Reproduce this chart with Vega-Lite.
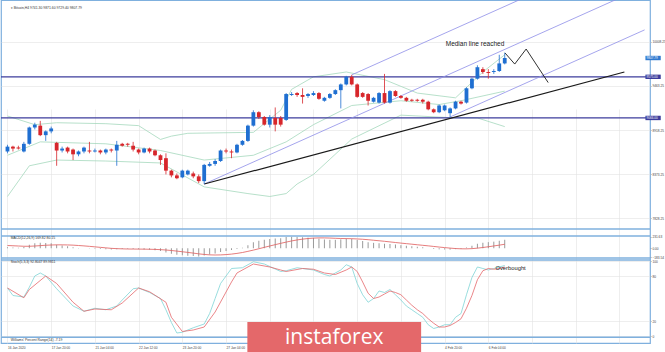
{
  "$schema": "https://vega.github.io/schema/vega-lite/v6.json",
  "padding": 0,
  "background": "#ffffff",
  "width": 649,
  "height": 343,
  "config": {
    "view": {"stroke": "#7fb0de", "strokeWidth": 1.2},
    "font": "Liberation Sans",
    "axis": {"labelFont": "Liberation Sans", "labelFontSize": 3.2, "labelColor": "#444444", "gridColor": "#e2e2e2", "gridWidth": 0.6, "domain": false, "tickColor": "#888888", "tickWidth": 0.5, "tickSize": 1.3, "labelPadding": 0.6, "labelOverlap": false, "labelFlush": false}
  },
  "datasets": {
    "candles": [
      {"i":0,"o":8651,"h":8734,"l":8628,"c":8711,"m":20,"s":55},
      {"i":1,"o":8711,"h":8722,"l":8651,"c":8687,"m":15,"s":50},
      {"i":2,"o":8699,"h":8722,"l":8675,"c":8687,"m":10,"s":45},
      {"i":3,"o":8651,"h":8770,"l":8639,"c":8746,"m":25,"s":40},
      {"i":4,"o":8746,"h":8959,"l":8734,"c":8948,"m":70,"s":40},
      {"i":5,"o":8948,"h":9007,"l":8924,"c":8983,"m":100,"s":45},
      {"i":6,"o":8971,"h":9030,"l":8841,"c":8853,"m":110,"s":52},
      {"i":7,"o":8853,"h":8912,"l":8782,"c":8900,"m":105,"s":60},
      {"i":8,"o":8900,"h":8959,"l":8876,"c":8936,"m":100,"s":65},
      {"i":9,"o":8758,"h":8770,"l":8474,"c":8663,"m":70,"s":68},
      {"i":10,"o":8663,"h":8711,"l":8639,"c":8687,"m":55,"s":68},
      {"i":11,"o":8699,"h":8711,"l":8628,"c":8651,"m":40,"s":66},
      {"i":12,"o":8675,"h":8687,"l":8545,"c":8616,"m":20,"s":62},
      {"i":13,"o":8616,"h":8663,"l":8592,"c":8651,"m":5,"s":55},
      {"i":14,"o":8651,"h":8711,"l":8628,"c":8699,"m":0,"s":47},
      {"i":15,"o":8663,"h":8770,"l":8628,"c":8651,"m":-5,"s":38},
      {"i":16,"o":8651,"h":8687,"l":8639,"c":8663,"m":-10,"s":28},
      {"i":17,"o":8663,"h":8675,"l":8616,"c":8639,"m":-15,"s":18},
      {"i":18,"o":8639,"h":8687,"l":8616,"c":8675,"m":-20,"s":8},
      {"i":19,"o":8675,"h":8687,"l":8639,"c":8663,"m":-25,"s":-2},
      {"i":20,"o":8663,"h":8782,"l":8474,"c":8734,"m":-20,"s":-8},
      {"i":21,"o":8746,"h":8758,"l":8711,"c":8722,"m":-15,"s":-12},
      {"i":22,"o":8746,"h":8758,"l":8711,"c":8734,"m":-12,"s":-15},
      {"i":23,"o":8722,"h":8770,"l":8651,"c":8675,"m":-15,"s":-16},
      {"i":24,"o":8675,"h":8687,"l":8616,"c":8639,"m":-20,"s":-17},
      {"i":25,"o":8639,"h":8699,"l":8628,"c":8687,"m":-25,"s":-18},
      {"i":26,"o":8687,"h":8699,"l":8628,"c":8651,"m":-30,"s":-20},
      {"i":27,"o":8663,"h":8675,"l":8592,"c":8604,"m":-40,"s":-23},
      {"i":28,"o":8604,"h":8616,"l":8485,"c":8545,"m":-55,"s":-28},
      {"i":29,"o":8568,"h":8628,"l":8367,"c":8414,"m":-85,"s":-35},
      {"i":30,"o":8414,"h":8426,"l":8331,"c":8355,"m":-110,"s":-45},
      {"i":31,"o":8355,"h":8379,"l":8308,"c":8320,"m":-130,"s":-57},
      {"i":32,"o":8331,"h":8426,"l":8320,"c":8414,"m":-140,"s":-70},
      {"i":33,"o":8367,"h":8426,"l":8355,"c":8414,"m":-150,"s":-83},
      {"i":34,"o":8379,"h":8402,"l":8320,"c":8343,"m":-155,"s":-97},
      {"i":35,"o":8343,"h":8367,"l":8260,"c":8284,"m":-165,"s":-112},
      {"i":36,"o":8284,"h":8497,"l":8248,"c":8485,"m":-145,"s":-124},
      {"i":37,"o":8474,"h":8521,"l":8462,"c":8497,"m":-125,"s":-132},
      {"i":38,"o":8497,"h":8557,"l":8474,"c":8533,"m":-105,"s":-135},
      {"i":39,"o":8533,"h":8675,"l":8521,"c":8663,"m":-75,"s":-133},
      {"i":40,"o":8663,"h":8687,"l":8628,"c":8651,"m":-55,"s":-127},
      {"i":41,"o":8651,"h":8675,"l":8568,"c":8639,"m":-35,"s":-117},
      {"i":42,"o":8639,"h":8746,"l":8628,"c":8734,"m":-15,"s":-103},
      {"i":43,"o":8734,"h":8793,"l":8722,"c":8782,"m":10,"s":-85},
      {"i":44,"o":8782,"h":8983,"l":8770,"c":8971,"m":60,"s":-62},
      {"i":45,"o":8971,"h":9161,"l":8959,"c":9137,"m":120,"s":-37},
      {"i":46,"o":9137,"h":9149,"l":9054,"c":9078,"m":150,"s":-10},
      {"i":47,"o":9078,"h":9090,"l":8971,"c":8983,"m":170,"s":18},
      {"i":48,"o":8983,"h":9101,"l":8948,"c":9078,"m":185,"s":45},
      {"i":49,"o":9066,"h":9196,"l":8900,"c":8983,"m":195,"s":72},
      {"i":50,"o":9066,"h":9090,"l":8959,"c":8983,"m":200,"s":98},
      {"i":51,"o":9042,"h":9374,"l":9030,"c":9362,"m":225,"s":123},
      {"i":52,"o":9350,"h":9386,"l":9338,"c":9362,"m":230,"s":146},
      {"i":53,"o":9374,"h":9386,"l":9327,"c":9350,"m":228,"s":166},
      {"i":54,"o":9350,"h":9433,"l":9244,"c":9327,"m":220,"s":182},
      {"i":55,"o":9338,"h":9374,"l":9315,"c":9362,"m":212,"s":195},
      {"i":56,"o":9350,"h":9398,"l":9338,"c":9374,"m":205,"s":203},
      {"i":57,"o":9374,"h":9386,"l":9291,"c":9303,"m":190,"s":207},
      {"i":58,"o":9279,"h":9327,"l":9267,"c":9315,"m":175,"s":207},
      {"i":59,"o":9315,"h":9374,"l":9303,"c":9362,"m":168,"s":204},
      {"i":60,"o":9362,"h":9421,"l":9350,"c":9410,"m":168,"s":199},
      {"i":61,"o":9410,"h":9493,"l":9184,"c":9481,"m":178,"s":195},
      {"i":62,"o":9481,"h":9587,"l":9469,"c":9575,"m":195,"s":193},
      {"i":63,"o":9575,"h":9599,"l":9469,"c":9481,"m":190,"s":191},
      {"i":64,"o":9481,"h":9493,"l":9315,"c":9327,"m":165,"s":186},
      {"i":65,"o":9374,"h":9386,"l":9315,"c":9327,"m":145,"s":180},
      {"i":66,"o":9362,"h":9374,"l":9220,"c":9279,"m":120,"s":171},
      {"i":67,"o":9267,"h":9327,"l":9256,"c":9315,"m":108,"s":160},
      {"i":68,"o":9256,"h":9386,"l":9244,"c":9374,"m":100,"s":150},
      {"i":69,"o":9374,"h":9611,"l":9244,"c":9256,"m":90,"s":139},
      {"i":70,"o":9256,"h":9410,"l":9244,"c":9398,"m":85,"s":127},
      {"i":71,"o":9398,"h":9410,"l":9327,"c":9338,"m":75,"s":115},
      {"i":72,"o":9338,"h":9350,"l":9303,"c":9315,"m":62,"s":103},
      {"i":73,"o":9315,"h":9327,"l":9267,"c":9279,"m":50,"s":92},
      {"i":74,"o":9291,"h":9303,"l":9267,"c":9279,"m":40,"s":81},
      {"i":75,"o":9291,"h":9303,"l":9267,"c":9279,"m":30,"s":70},
      {"i":76,"o":9291,"h":9303,"l":9244,"c":9267,"m":20,"s":59},
      {"i":77,"o":9267,"h":9279,"l":9161,"c":9173,"m":0,"s":48},
      {"i":78,"o":9173,"h":9184,"l":9125,"c":9137,"m":-15,"s":36},
      {"i":79,"o":9137,"h":9232,"l":9125,"c":9220,"m":-22,"s":24},
      {"i":80,"o":9161,"h":9232,"l":9149,"c":9220,"m":-25,"s":13},
      {"i":81,"o":9125,"h":9196,"l":9078,"c":9184,"m":-28,"s":3},
      {"i":82,"o":9184,"h":9279,"l":9173,"c":9267,"m":-18,"s":-6},
      {"i":83,"o":9267,"h":9279,"l":9232,"c":9244,"m":-12,"s":-11},
      {"i":84,"o":9256,"h":9445,"l":9244,"c":9433,"m":15,"s":-12},
      {"i":85,"o":9433,"h":9564,"l":9421,"c":9552,"m":50,"s":-8},
      {"i":86,"o":9552,"h":9718,"l":9540,"c":9694,"m":90,"s":2},
      {"i":87,"o":9670,"h":9694,"l":9611,"c":9635,"m":110,"s":15},
      {"i":88,"o":9635,"h":9670,"l":9552,"c":9623,"m":122,"s":30},
      {"i":89,"o":9635,"h":9670,"l":9611,"c":9647,"m":132,"s":46},
      {"i":90,"o":9647,"h":9848,"l":9635,"c":9741,"m":150,"s":62},
      {"i":91,"o":9741,"h":9872,"l":9729,"c":9808,"m":170,"s":80}
    ],
    "bb": [
      {"b":"up","i":0,"v":9090},{"b":"up","i":5,"v":8983},{"b":"up","i":9,"v":9007},{"b":"up","i":18,"v":8995},{"b":"up","i":24,"v":8971},{"b":"up","i":28,"v":8800},{"b":"up","i":30,"v":8841},{"b":"up","i":33,"v":8876},{"b":"up","i":45,"v":8888},{"b":"up","i":50,"v":9161},{"b":"up","i":52,"v":9420},{"b":"up","i":56,"v":9575},{"b":"up","i":62,"v":9635},{"b":"up","i":69,"v":9540},{"b":"up","i":75,"v":9374},{"b":"up","i":82,"v":9315},{"b":"up","i":87,"v":9635},{"b":"up","i":91,"v":9848},
      {"b":"mid","i":0,"v":8604},{"b":"mid","i":6,"v":8770},{"b":"mid","i":18,"v":8746},{"b":"mid","i":28,"v":8663},{"b":"mid","i":36,"v":8545},{"b":"mid","i":45,"v":8604},{"b":"mid","i":51,"v":8770},{"b":"mid","i":56,"v":8983},{"b":"mid","i":63,"v":9220},{"b":"mid","i":72,"v":9279},{"b":"mid","i":79,"v":9232},{"b":"mid","i":83,"v":9279},{"b":"mid","i":91,"v":9398},
      {"b":"low","i":0,"v":8094},{"b":"low","i":4,"v":8474},{"b":"low","i":9,"v":8545},{"b":"low","i":18,"v":8533},{"b":"low","i":28,"v":8509},{"b":"low","i":36,"v":8213},{"b":"low","i":44,"v":8130},{"b":"low","i":48,"v":8094},{"b":"low","i":51,"v":8130},{"b":"low","i":53,"v":8248},{"b":"low","i":56,"v":8367},{"b":"low","i":63,"v":8805},{"b":"low","i":72,"v":9101},{"b":"low","i":81,"v":9070},{"b":"low","i":86,"v":9066},{"b":"low","i":91,"v":8959}
    ],
    "fork": [
      {"name":"median","i":36,"p":8248},{"name":"median","i":116.6,"p":10690},
      {"name":"upper","i":63,"p":9599},{"name":"upper","i":116.6,"p":11222},
      {"name":"lower","i":81,"p":9078},{"name":"lower","i":116.6,"p":10156}
    ],
    "trend": [{"i":36,"p":8248},{"i":112.9,"p":9635}],
    "zig": [{"i":91.03,"p":9872},{"i":92.83,"p":9733},{"i":94.92,"p":9919},{"i":98.95,"p":9504}],
    "levels": [{"p":9575},{"p":9066}],
    "tags": [{"p":9807.79,"k":"price"},{"p":9575,"k":"level"},{"p":9066,"k":"level"}],
    "stoch": [
      {"s":"K","i":0,"v":64},{"s":"K","i":1,"v":54},{"s":"K","i":3,"v":52},{"s":"K","i":4,"v":65},{"s":"K","i":5,"v":80},{"s":"K","i":6,"v":84},{"s":"K","i":7,"v":80},{"s":"K","i":9,"v":63},{"s":"K","i":12,"v":40},{"s":"K","i":14,"v":33},{"s":"K","i":16,"v":37},{"s":"K","i":18,"v":35},{"s":"K","i":20,"v":40},{"s":"K","i":21,"v":48},{"s":"K","i":23,"v":63},{"s":"K","i":24,"v":64},{"s":"K","i":26,"v":58},{"s":"K","i":28,"v":50},{"s":"K","i":29,"v":35},{"s":"K","i":30,"v":18},{"s":"K","i":31,"v":4},{"s":"K","i":32,"v":5},{"s":"K","i":34,"v":11},{"s":"K","i":36,"v":16},{"s":"K","i":37,"v":30},{"s":"K","i":38,"v":50},{"s":"K","i":39,"v":70},{"s":"K","i":41,"v":90},{"s":"K","i":43,"v":91},{"s":"K","i":45,"v":99},{"s":"K","i":47,"v":96},{"s":"K","i":50,"v":86},{"s":"K","i":51,"v":87},{"s":"K","i":53,"v":91},{"s":"K","i":54,"v":90},{"s":"K","i":56,"v":88},{"s":"K","i":58,"v":82},{"s":"K","i":59,"v":80},{"s":"K","i":61,"v":88},{"s":"K","i":62,"v":95},{"s":"K","i":63,"v":92},{"s":"K","i":64,"v":70},{"s":"K","i":65,"v":55},{"s":"K","i":66,"v":45},{"s":"K","i":67,"v":50},{"s":"K","i":68,"v":60},{"s":"K","i":69,"v":58},{"s":"K","i":70,"v":62},{"s":"K","i":71,"v":55},{"s":"K","i":72,"v":48},{"s":"K","i":73,"v":40},{"s":"K","i":74,"v":35},{"s":"K","i":75,"v":30},{"s":"K","i":76,"v":25},{"s":"K","i":77,"v":15},{"s":"K","i":78,"v":10},{"s":"K","i":79,"v":12},{"s":"K","i":80,"v":15},{"s":"K","i":81,"v":15},{"s":"K","i":82,"v":25},{"s":"K","i":83,"v":30},{"s":"K","i":84,"v":55},{"s":"K","i":85,"v":78},{"s":"K","i":86,"v":92},{"s":"K","i":87,"v":90},{"s":"K","i":88,"v":88},{"s":"K","i":89,"v":90},{"s":"K","i":90,"v":92},{"s":"K","i":91,"v":94},
      {"s":"D","i":0,"v":64},{"s":"D","i":3,"v":51},{"s":"D","i":4,"v":62},{"s":"D","i":7,"v":80},{"s":"D","i":9,"v":70},{"s":"D","i":12,"v":45},{"s":"D","i":14,"v":33},{"s":"D","i":16,"v":36},{"s":"D","i":19,"v":35},{"s":"D","i":21,"v":44},{"s":"D","i":24,"v":64},{"s":"D","i":26,"v":59},{"s":"D","i":29,"v":45},{"s":"D","i":30,"v":25},{"s":"D","i":32,"v":6},{"s":"D","i":34,"v":8},{"s":"D","i":36,"v":12},{"s":"D","i":38,"v":32},{"s":"D","i":41,"v":72},{"s":"D","i":42,"v":84},{"s":"D","i":45,"v":96},{"s":"D","i":48,"v":92},{"s":"D","i":50,"v":88},{"s":"D","i":51,"v":86},{"s":"D","i":54,"v":90},{"s":"D","i":56,"v":89},{"s":"D","i":58,"v":84},{"s":"D","i":60,"v":82},{"s":"D","i":62,"v":88},{"s":"D","i":63,"v":92},{"s":"D","i":64,"v":86},{"s":"D","i":65,"v":72},{"s":"D","i":66,"v":57},{"s":"D","i":67,"v":50},{"s":"D","i":68,"v":52},{"s":"D","i":69,"v":56},{"s":"D","i":70,"v":60},{"s":"D","i":71,"v":58},{"s":"D","i":72,"v":55},{"s":"D","i":73,"v":48},{"s":"D","i":74,"v":41},{"s":"D","i":75,"v":35},{"s":"D","i":76,"v":30},{"s":"D","i":77,"v":23},{"s":"D","i":78,"v":17},{"s":"D","i":79,"v":12},{"s":"D","i":80,"v":12},{"s":"D","i":81,"v":14},{"s":"D","i":82,"v":18},{"s":"D","i":83,"v":23},{"s":"D","i":84,"v":37},{"s":"D","i":85,"v":54},{"s":"D","i":86,"v":75},{"s":"D","i":87,"v":87},{"s":"D","i":88,"v":90},{"s":"D","i":89,"v":89},{"s":"D","i":90,"v":90},{"s":"D","i":91,"v":92}
    ]
  },
  "resolve": {"scale": {"y": "independent"}, "axis": {"y": "independent"}},
  "layer": [
    {
      "layer": [
        {
          "data": {"name": "bb"},
          "mark": {"type": "line", "strokeWidth": 0.8, "color": "#a5d8bd"},
          "encoding": {
            "x": {"field": "i", "type": "quantitative", "scale": {"domain": [-0.27, 116.67], "nice": false, "zero": false},
                  "axis": {"orient": "bottom", "values": [0,2,4,6,8,10,12,14,16,18,20,22,24,26,28,30,32,34,36,38,40,42,44,46,48,50,52,54,56,58,60,62,64,66,68,70,72,74,76,78,80,82,84,86,88,90,92,94,96,98,100,102,104,106,108,110,112,114,116], "ticks": false, "grid": true, "title": null, "labelAlign": "left", "labelPadding": 2, "labelFontSize": 3.2,
                           "labelExpr": "(datum.value % 4 == 0 && datum.value <= 88) ? ['16 Jan 2020','17 Jan 04:00','17 Jan 20:00','20 Jan 12:00','21 Jan 04:00','21 Jan 20:00','22 Jan 12:00','23 Jan 04:00','23 Jan 20:00','24 Jan 12:00','27 Jan 04:00','27 Jan 20:00','28 Jan 12:00','29 Jan 04:00','29 Jan 20:00','30 Jan 12:00','31 Jan 04:00','31 Jan 20:00','3 Feb 12:00','4 Feb 04:00','4 Feb 20:00','5 Feb 12:00','6 Feb 04:00'][datum.value / 4] : ''"}},
            "y": {"field": "v", "type": "quantitative", "scale": {"domain": [7691.6, 10464], "range": [234, 0], "nice": false, "zero": false},
                  "axis": {"orient": "right", "offset": 0, "values": [10417, 10280.75, 10144.5, 10008.25, 9872, 9735.75, 9599.5, 9463.25, 9327, 9190.75, 9054.5, 8918.25, 8782, 8645.75, 8509.5, 8373.25, 8237, 8100.75, 7964.5, 7828.25], "format": ".2f", "grid": true, "title": null}},
            "detail": {"field": "b", "type": "nominal"}
          }
        },
        {
          "data": {"values": [{"v": 7691.6}]},
          "mark": {"type": "rule", "color": "#7fb0de", "strokeWidth": 1.3},
          "encoding": {"y": {"field": "v", "type": "quantitative"}}
        },
        {
          "data": {"name": "levels"},
          "mark": {"type": "rule", "color": "#3c3c9c", "strokeWidth": 1.3},
          "encoding": {"y": {"field": "p", "type": "quantitative"}}
        },
        {
          "data": {"name": "fork"},
          "mark": {"type": "line", "clip": true, "color": "#8e8ee8", "strokeWidth": 0.8},
          "encoding": {
            "x": {"field": "i", "type": "quantitative"},
            "y": {"field": "p", "type": "quantitative"},
            "detail": {"field": "name", "type": "nominal"}
          }
        },
        {
          "data": {"name": "trend"},
          "mark": {"type": "line", "color": "#1a1a1a", "strokeWidth": 1.2},
          "encoding": {"x": {"field": "i", "type": "quantitative"}, "y": {"field": "p", "type": "quantitative"}}
        },
        {
          "data": {"name": "zig"},
          "mark": {"type": "line", "color": "#1a1a1a", "strokeWidth": 0.9},
          "encoding": {"x": {"field": "i", "type": "quantitative"}, "y": {"field": "p", "type": "quantitative"}}
        },
        {
          "data": {"name": "candles"},
          "mark": {"type": "rule", "strokeWidth": 0.8},
          "encoding": {
            "x": {"field": "i", "type": "quantitative"},
            "y": {"field": "l", "type": "quantitative"},
            "y2": {"field": "h"},
            "color": {"condition": {"test": "datum.c >= datum.o", "value": "#1f6fd1"}, "value": "#d7262b"}
          }
        },
        {
          "data": {"name": "candles"},
          "mark": {"type": "bar", "size": 3.8},
          "encoding": {
            "x": {"field": "i", "type": "quantitative"},
            "y": {"field": "o", "type": "quantitative"},
            "y2": {"field": "c"},
            "color": {"condition": {"test": "datum.c >= datum.o", "value": "#1f6fd1"}, "value": "#d7262b"}
          }
        },
        {
          "data": {"values": [{"i": 80.2, "p": 9978, "t": "Median line reached"}]},
          "mark": {"type": "text", "align": "left", "baseline": "middle", "fontSize": 6.5, "color": "#1a1a1a", "font": "Liberation Sans"},
          "encoding": {"x": {"field": "i", "type": "quantitative"}, "y": {"field": "p", "type": "quantitative"}, "text": {"field": "t"}}
        },
        {
          "data": {"values": [{"i": 0.6, "p": 10428, "t": "\u25be Bitcoin,H4  9741.30 9871.60 9729.40 9807.79"}]},
          "mark": {"type": "text", "align": "left", "baseline": "middle", "fontSize": 3.4, "color": "#333333"},
          "encoding": {"x": {"field": "i", "type": "quantitative"}, "y": {"field": "p", "type": "quantitative"}, "text": {"field": "t"}}
        },
        {
          "data": {"name": "tags"},
          "mark": {"type": "bar", "size": 4.4},
          "encoding": {
            "x": {"datum": 116.75},
            "x2": {"datum": 119.55},
            "y": {"field": "p", "type": "quantitative"},
            "color": {"condition": {"test": "datum.k == 'price'", "value": "#2f78cf"}, "value": "#3c3c9c"}
          }
        },
        {
          "data": {"name": "tags"},
          "mark": {"type": "text", "align": "left", "baseline": "middle", "fontSize": 3.1, "color": "#ffffff"},
          "encoding": {
            "x": {"datum": 116.95},
            "y": {"field": "p", "type": "quantitative"},
            "text": {"field": "p", "type": "quantitative", "format": ".2f"}
          }
        }
      ]
    },
    {
      "layer": [
        {
          "data": {"name": "candles"},
          "mark": {"type": "rule", "color": "#9a9a9a", "strokeWidth": 1},
          "encoding": {
            "x": {"field": "i", "type": "quantitative"},
            "y": {"field": "m", "type": "quantitative", "scale": {"domain": [-195, 245], "range": [258, 236], "nice": false, "zero": false},
                  "axis": {"orient": "right", "offset": 0, "values": [231.63, 0, -183.54], "format": ".2f", "grid": false, "title": null}},
            "y2": {"datum": 0}
          }
        },
        {
          "data": {"name": "candles"},
          "mark": {"type": "line", "color": "#e05a5a", "strokeWidth": 0.8},
          "encoding": {"x": {"field": "i", "type": "quantitative"}, "y": {"field": "s", "type": "quantitative"}}
        },
        {
          "data": {"values": [{"v": 245}, {"v": -195}]},
          "mark": {"type": "rule", "color": "#7fb0de", "strokeWidth": 1.3},
          "encoding": {"y": {"field": "v", "type": "quantitative"}}
        },
        {
          "data": {"values": [{"i": 0.6, "v": 205, "t": "MACD(12,26,9) 169.82 80.15"}]},
          "mark": {"type": "text", "align": "left", "baseline": "middle", "fontSize": 3.4, "color": "#333333"},
          "encoding": {"x": {"field": "i", "type": "quantitative"}, "y": {"field": "v", "type": "quantitative"}, "text": {"field": "t"}}
        }
      ]
    },
    {
      "layer": [
        {
          "data": {"name": "stoch"},
          "mark": {"type": "line", "strokeWidth": 0.8},
          "encoding": {
            "x": {"field": "i", "type": "quantitative"},
            "y": {"field": "v", "type": "quantitative", "scale": {"domain": [-9.33, 101.33], "range": [343, 260], "nice": false, "zero": false},
                  "axis": {"orient": "right", "offset": 0, "values": [0, 20, 80, 100], "grid": true, "title": null}},
            "color": {"field": "s", "type": "nominal", "scale": {"domain": ["K", "D"], "range": ["#7fd4d6", "#e5676b"]}, "legend": null}
          }
        },
        {
          "data": {"values": [{"v": 101.33}, {"v": -1.6}]},
          "mark": {"type": "rule", "color": "#7fb0de", "strokeWidth": 1.4},
          "encoding": {"y": {"field": "v", "type": "quantitative"}}
        },
        {
          "data": {"values": [
            {"i": 0.6, "v": 99.2, "t": "Stoch(5,3,3) 92.8047 89.9811"},
            {"i": 0.6, "v": -5.3, "t": "Williams' Percent Range(14) -7.19"}
          ]},
          "mark": {"type": "text", "align": "left", "baseline": "middle", "fontSize": 3.4, "color": "#333333"},
          "encoding": {"x": {"field": "i", "type": "quantitative"}, "y": {"field": "v", "type": "quantitative"}, "text": {"field": "t"}}
        },
        {
          "data": {"values": [{"i": 89.3, "v": 90.7, "t": "Overbought"}]},
          "mark": {"type": "text", "align": "left", "baseline": "middle", "fontSize": 5.8, "color": "#1a1a1a"},
          "encoding": {"x": {"field": "i", "type": "quantitative"}, "y": {"field": "v", "type": "quantitative"}, "text": {"field": "t"}}
        },
        {
          "data": {"values": [{"a": 1}]},
          "mark": {"type": "rect", "color": "#e4686a"},
          "encoding": {"x": {"datum": 43.9}, "x2": {"datum": 75.7}, "y": {"datum": 18.7}, "y2": {"datum": -21.3}}
        },
        {
          "data": {"values": [{"i": 59.8, "v": -3.2, "t": "instaforex"}]},
          "mark": {"type": "text", "align": "center", "baseline": "middle", "fontSize": 21, "color": "#ffffff", "font": "Open Sans"},
          "encoding": {"x": {"field": "i", "type": "quantitative"}, "y": {"field": "v", "type": "quantitative"}, "text": {"field": "t"}}
        }
      ]
    }
  ]
}
